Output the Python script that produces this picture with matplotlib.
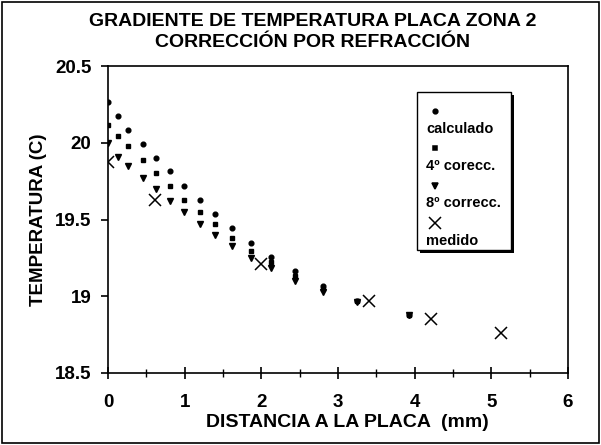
import matplotlib

matplotlib.use("Agg")

import matplotlib.pyplot as plt  # noqa: E402
from matplotlib.patches import Rectangle  # noqa: E402
from matplotlib.ticker import MultipleLocator  # noqa: E402

# distance to plate (mm) for the computed profiles
distancia = [0, 0.13, 0.26, 0.456, 0.626, 0.804, 0.99, 1.195, 1.395,
             1.617, 1.86, 2.125, 2.434, 2.80, 3.25, 3.92]
calculado = [20.264, 20.178, 20.086, 19.995, 19.905, 19.815, 19.721, 19.626,
             19.537, 19.442, 19.35, 19.257, 19.163, 19.066, 18.972, 18.880]
correcc4 = [20.114, 20.043, 19.978, 19.886, 19.804, 19.717, 19.630, 19.552,
            19.470, 19.383, 19.298, 19.226, 19.135, 19.050, 18.968, 18.877]
correcc8 = [20.0, 19.908, 19.852, 19.769, 19.697, 19.622, 19.548, 19.472,
            19.402, 19.326, 19.252, 19.183, 19.10, 19.027, 18.965, 18.876]

# measured points
dist_medido = [0, 0.61, 2.0, 3.41, 4.21, 5.12]
medido = [19.876, 19.626, 19.213, 18.968, 18.85, 18.762]

labels = ["calculado", "4º corecc.", "8º correcc.", "medido"]

plt.rcParams["font.family"] = ["Liberation Sans", "DejaVu Sans"]
plt.rcParams["font.weight"] = "bold"

fig = plt.figure(figsize=(6.01, 4.45), dpi=100)
ax = fig.add_axes([0.180, 0.162, 0.765, 0.689])

ax.plot(distancia, calculado, "o", color="black", ms=3.4, ls="none")
ax.plot(distancia, correcc4, "s", color="black", ms=3.2, ls="none")
ax.plot(distancia, correcc8, "v", color="black", ms=4.2, ls="none")
ax.plot(dist_medido, medido, "x", color="black", ms=8, mew=1.1, ls="none")

ax.set_xlim(0, 6)
ax.set_ylim(18.5, 20.5)
ax.xaxis.set_major_locator(MultipleLocator(1))
ax.xaxis.set_minor_locator(MultipleLocator(0.5))
ax.set_yticks([18.5, 19, 19.5, 20, 20.5])
ax.set_yticklabels(["18.5", "19", "19.5", "20", "20.5"])
ax.tick_params(axis="x", which="major", direction="inout", length=9, width=1.2,
               labelsize=13.5, pad=11)
ax.tick_params(axis="x", which="minor", direction="inout", length=6, width=1.0)
ax.tick_params(axis="y", which="major", direction="out", length=5, width=1.2,
               labelsize=13.5, pad=7)
for sp in ax.spines.values():
    sp.set_linewidth(1.2)

ax.set_xlabel("DISTANCIA A LA PLACA  (mm)", fontsize=14, fontweight="bold")
ax.xaxis.set_label_coords(0.52, -0.135)
ax.set_ylabel("TEMPERATURA (C)", fontsize=13.5, fontweight="bold", labelpad=6)
fig.text(0.52, 0.952, "GRADIENTE DE TEMPERATURA PLACA ZONA 2",
         ha="center", va="center", fontsize=14, fontweight="bold")
fig.text(0.52, 0.905, "CORRECCIÓN POR REFRACCIÓN",
         ha="center", va="center", fontsize=14, fontweight="bold")

# legend box: marker stacked above each label, with a drop shadow
lx0, ly0, lw, lh = 0.672, 0.40, 0.205, 0.515
ax.add_patch(Rectangle((lx0 + 0.006, ly0 - 0.010), lw, lh, transform=ax.transAxes,
                       facecolor="black", edgecolor="none", zorder=4))
ax.add_patch(Rectangle((lx0, ly0), lw, lh, transform=ax.transAxes,
                       facecolor="white", edgecolor="black", lw=1.0, zorder=5))
leg_markers = [("o", 3.4), ("s", 3.2), ("v", 4.2), ("x", 8)]
for i, (lab, (mk, ms)) in enumerate(zip(labels, leg_markers)):
    ym = ly0 + lh - 0.06 - i * 0.122
    ax.plot([lx0 + 0.038], [ym], mk, color="black", ms=ms, mew=1.1,
            transform=ax.transAxes, zorder=6, clip_on=False)
    ax.text(lx0 + 0.02, ym - 0.058, lab, transform=ax.transAxes,
            fontsize=10.5, fontweight="bold", va="center", ha="left", zorder=6)

fig.patches.append(Rectangle((0.004, 0.004), 0.992, 0.992, transform=fig.transFigure,
                             fill=False, edgecolor="black", lw=1.2))

fig.savefig("out.png", dpi=100)
